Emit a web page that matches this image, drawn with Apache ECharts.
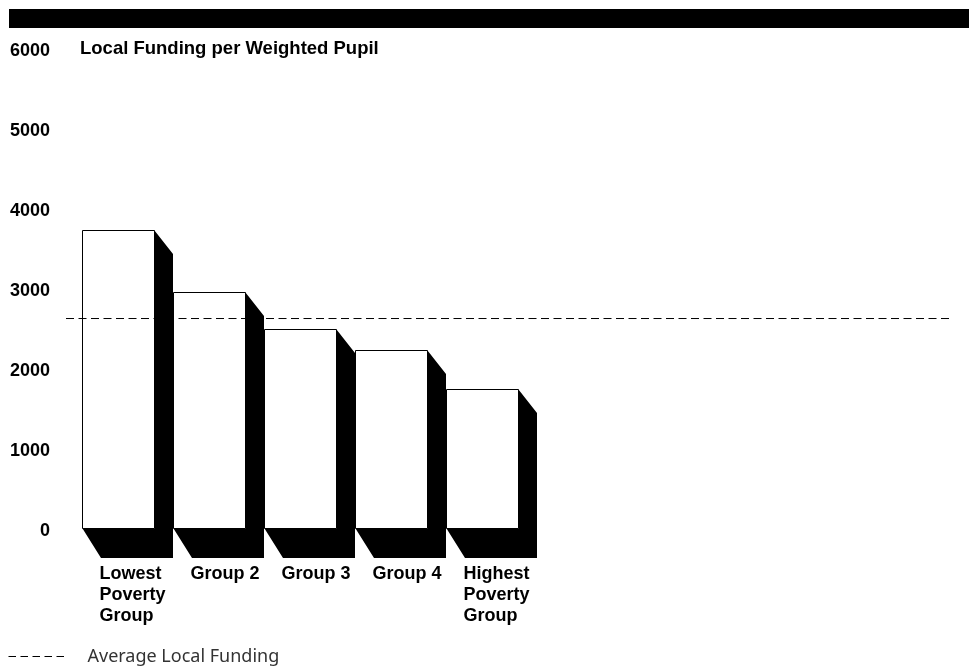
<!DOCTYPE html>
<html>
<head>
<meta charset="utf-8">
<script src="https://cdn.jsdelivr.net/npm/echarts@6/dist/echarts.min.js"></script>
<style>
  html, body { margin: 0; padding: 0; background: #fff; }
  #chart { width: 969px; height: 670px; }
</style>
</head>
<body>
<div id="chart"></div>
<script>
// data
const categories = ['Lowest\nPoverty\nGroup', 'Group 2', 'Group 3', 'Group 4', 'Highest\nPoverty\nGroup'];
const funding = [3740, 2965, 2505, 2237, 1746];
const averageFunding = 2631;
const yMin = 0, yMax = 6000, yStep = 1000;

const boldFont = { fontFamily: 'Liberation Sans, Arial, sans-serif', fontWeight: 'bold', fontSize: 18, color: '#000' };

// bar with black extruded shadow (right side + bottom)
function renderBar(params, api) {
    const top = api.coord([api.value(0), api.value(1)]);
    const base = api.coord([api.value(0), 0]);
    const w = api.size([1, 0])[0] * 0.79;
    const L = Math.floor(top[0] - w / 2) + 0.5, R = L + Math.round(w);
    const T = Math.round(top[1]) + 0.5, B = Math.round(base[1]) - 0.5;
    const dx = 18.5, dyTop = 23.5, dyBot = 29.5;
    return {
        type: 'group',
        children: [{
            type: 'polygon',
            shape: { points: [[R, T], [R + dx, T + dyTop], [R + dx, B + dyBot], [L + dx, B + dyBot], [L, B], [R, B]] },
            style: { fill: '#000' }
        }, {
            type: 'rect',
            shape: { x: L, y: T, width: R - L, height: B - T },
            style: { fill: '#fff', stroke: '#000', lineWidth: 1 }
        }]
    };
}

const myChart = echarts.init(document.getElementById('chart'));
const option = {
    animation: false,
    backgroundColor: '#fff',
    graphic: [{
        type: 'rect', left: 9, top: 9,
        shape: { width: 960, height: 19 },
        style: { fill: '#000' }
    }],
    title: {
        text: 'Local Funding per Weighted Pupil',
        left: 80, top: 40, padding: 0,
        textStyle: Object.assign({}, boldFont, { fontSize: 18.5, lineHeight: 18 })
    },
    legend: {
        left: 3, top: 642.5,
        itemWidth: 59, itemHeight: 14,
        data: ['Average Local Funding'],
        itemStyle: { opacity: 0 },
        lineStyle: { width: 1, type: [7.5, 4.5] },
        textStyle: { fontFamily: 'Noto Sans', fontSize: 18, color: '#333', padding: [0, 0, 0, 15] }
    },
    grid: [
        { left: 73, top: 49, width: 455, height: 480 },
        { left: 54, top: 49, width: 455, height: 480 },
        { left: 66, top: 49, right: 16, height: 480 }
    ],
    xAxis: [{
        gridIndex: 0, type: 'category', data: categories,
        axisLine: { show: false }, axisTick: { show: false }, axisLabel: { show: false }
    }, {
        gridIndex: 1, type: 'category', data: categories,
        axisLine: { show: false }, axisTick: { show: false },
        axisLabel: Object.assign({ interval: 0, align: 'left', margin: 35, lineHeight: 21 }, boldFont)
    }, {
        gridIndex: 2, type: 'value', min: 0, max: 1, show: false
    }],
    yAxis: [{
        gridIndex: 0, type: 'value', min: yMin, max: yMax, interval: yStep,
        axisLine: { show: false }, axisTick: { show: false }, splitLine: { show: false },
        axisLabel: Object.assign({ margin: 23, verticalAlign: 'top', lineHeight: 5, formatter: v => String(v) }, boldFont)
    }, {
        gridIndex: 1, type: 'value', min: yMin, max: yMax, show: false
    }, {
        gridIndex: 2, type: 'value', min: yMin, max: yMax, show: false
    }],
    series: [{
        name: 'Local Funding',
        type: 'custom',
        xAxisIndex: 0, yAxisIndex: 0,
        renderItem: renderBar,
        encode: { x: 0, y: 1 },
        data: funding.map((v, i) => [i, v])
    }, {
        name: 'Average Local Funding',
        type: 'line',
        xAxisIndex: 2, yAxisIndex: 2,
        symbol: 'none',
        lineStyle: { color: '#000', width: 1, type: [8, 4.5] },
        itemStyle: { color: '#000' },
        data: [[0, averageFunding], [1, averageFunding]]
    }]
};
myChart.setOption(option);
</script>
</body>
</html>
